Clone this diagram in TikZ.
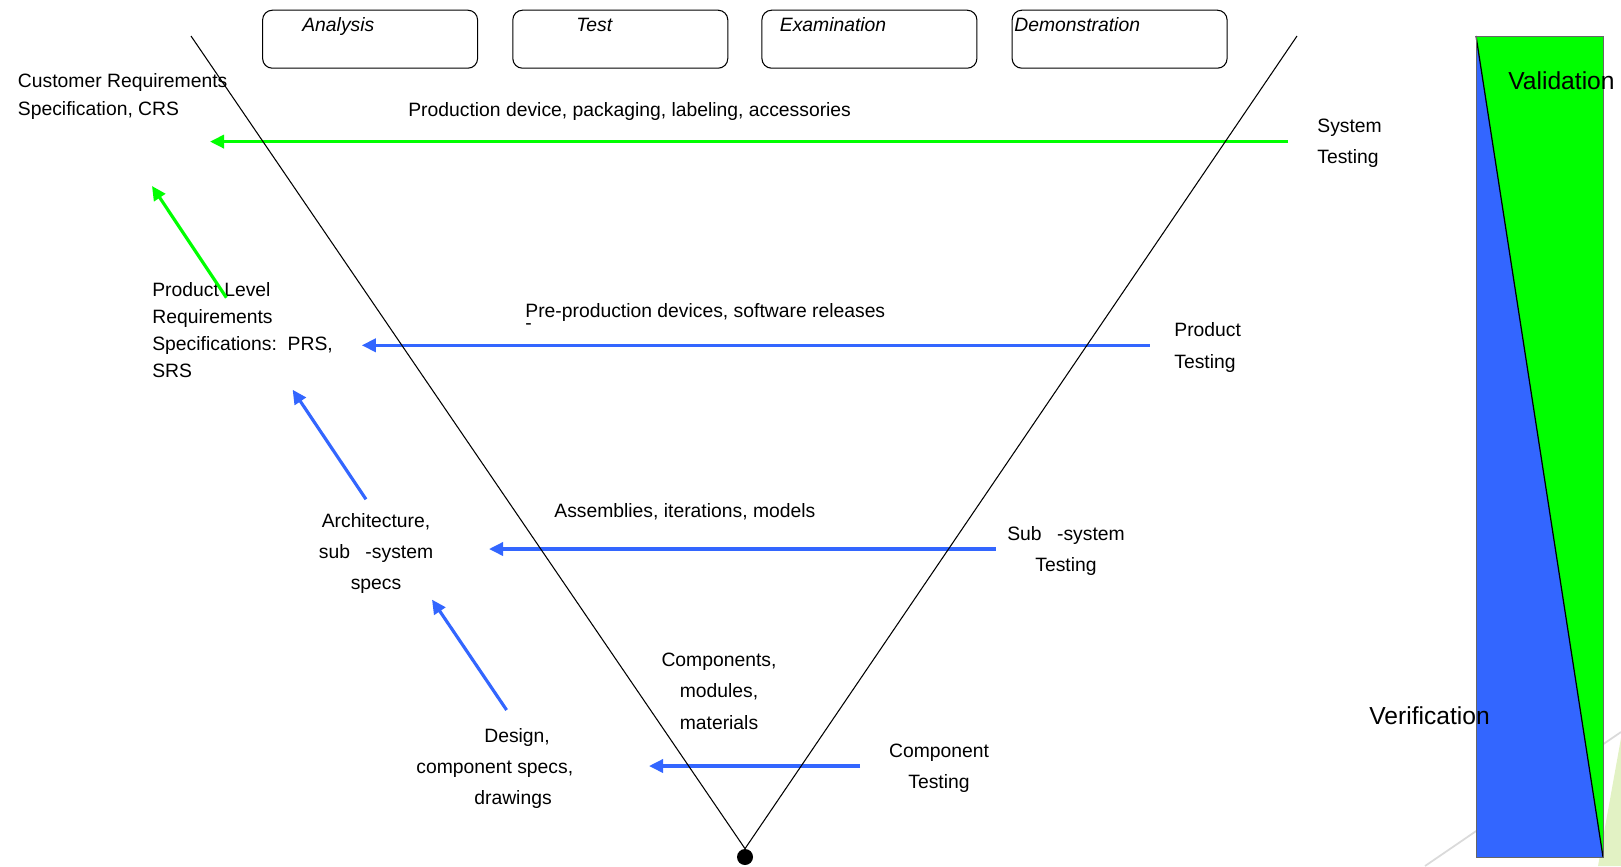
\documentclass[tikz,border=0pt]{standalone}
\usepackage{fontspec}
\setmainfont{Liberation Sans}
\usepackage{tikz}
\usetikzlibrary{arrows.meta}
\definecolor{valgreen}{RGB}{0,255,0}
\definecolor{verblue}{RGB}{51,102,255}
\definecolor{tmplgrey}{RGB}{218,218,218}
\definecolor{tmplgreen}{RGB}{226,242,196}

\begin{document}
\begin{tikzpicture}[x=0.02cm,y=-0.02cm,
    lbl/.style={font=\fontsize{11}{17.8}\selectfont,inner sep=0pt},
    tightlbl/.style={font=\fontsize{11}{15.4}\selectfont,inner sep=0pt,align=left,anchor=base west},
    biglbl/.style={font=\fontsize{14}{17}\selectfont,inner sep=0pt,anchor=base west},
    methodbox/.style={draw,rounded corners=5.5pt,line width=0.6pt,minimum width=4.3cm,minimum height=1.16cm,inner sep=0pt},
    methodlbl/.style={font=\fontsize{11}{13}\selectfont\itshape,inner sep=0pt,anchor=base west},
    vline/.style={line width=0.6pt},
    traceline/.style={line width=1.8pt,-{Triangle[length=8pt,width=7.5pt]}}]
  \useasboundingbox (0,0) rectangle (1621,866);
  % template decoration
  \fill[tmplgreen] (1598,866) -- (1621,738) -- (1621,866) -- cycle;
  \draw[tmplgrey,line width=1pt] (1425,866) -- (1621,732);
  % verification / validation bar
  \coordinate (barnw) at (1476,36);
  \coordinate (barne) at (1603,36);
  \coordinate (barsw) at (1476,857);
  \coordinate (barse) at (1603,857);
  \fill[verblue] (barnw) -- (barsw) -- (barse) -- cycle;
  \fill[valgreen] (barnw) -- (barne) -- (barse) -- cycle;
  \draw[line width=0.7pt] (barnw) -- (barse);
  \draw[gray!80!black,line width=0.5pt] (barnw) rectangle (barse);
  \node[biglbl] (valid) at (1508,89.4) {Validation};
  \node[biglbl] (verif) at (1369,724.2) {Verification};
  % method boxes
  \node[methodbox] (analysis) at (370.1,39.2) {};
  \node[methodbox] (test) at (620.3,39.2) {};
  \node[methodbox] (exam) at (869.4,39.2) {};
  \node[methodbox] (demo) at (1119.6,39.2) {};
  \node[methodlbl] (analysislbl) at (302,31) {Analysis};
  \node[methodlbl] (testlbl) at (576,31) {Test};
  \node[methodlbl] (examlbl) at (779.5,31) {Examination};
  \node[methodlbl] (demolbl) at (1014,31) {Demonstration};
  % left side: requirements (base = last line)
  \node[tightlbl,font=\fontsize{11}{15.8}\selectfont] (crs) at (17.6,115.4) {Customer Requirements\\Specification, CRS};
  \node[tightlbl] (prs) at (152,377.8) {Product Level\\Requirements\\Specifications:\ \ PRS,\\SRS};
  \node[lbl,align=center,anchor=base] (arch) at (376,589.6) {Architecture,\\sub\hspace{0.8em}-system\\specs};
  \node[lbl,align=left,anchor=base west] (design) at (416,804.6) {\hspace{1.36cm}Design,\\component specs,\\\hspace{1.16cm}drawings};
  % right side: testing
  \node[lbl,align=left,anchor=base west] (systest) at (1317,163.3) {System\\Testing};
  \node[lbl,align=left,anchor=base west] (prodtest) at (1174,368.1) {Product\\Testing};
  \node[lbl,align=center,anchor=base] (subtest) at (1066,571.7) {Sub\hspace{0.8em}-system\\Testing};
  \node[lbl,align=center,anchor=base] (comptest) at (939,788.8) {Component\\Testing};
  % deliverables
  \node[lbl,anchor=base west] (proddev) at (408,116.6) {Production device, packaging, labeling, accessories};
  \node[lbl,anchor=base west] (preprod) at (525,317) {Pre-production devices, software releases};
  \node[lbl,anchor=base west] (preprodmark) at (525,329) {-};
  \node[lbl,anchor=base west] (assy) at (554,517.7) {Assemblies, iterations, models};
  \node[lbl,align=center,anchor=base] (parts) at (719,729.2) {Components,\\modules,\\materials};
  % trace arrows
  \coordinate (systestout) at (1288,141.6);
  \coordinate (crsin) at (210,141.6);
  \coordinate (prsup) at (226.4,297.7);
  \coordinate (crsup) at (152,186);
  \coordinate (prodtestout) at (1149.6,345.3);
  \coordinate (prsin) at (361.8,345.3);
  \coordinate (archup) at (366,499.3);
  \coordinate (prsbelow) at (292.6,389.7);
  \coordinate (subtestout) at (995.5,549);
  \coordinate (archin) at (489,549);
  \coordinate (designup) at (506.6,710);
  \coordinate (archbelow) at (432,599.6);
  \coordinate (comptestout) at (860,766);
  \coordinate (designin) at (649,766);
  \draw[traceline,valgreen] (systestout) -- (crsin);
  \draw[traceline,valgreen] (prsup) -- (crsup);
  \draw[traceline,verblue] (prodtestout) -- (prsin);
  \draw[traceline,verblue] (archup) -- (prsbelow);
  \draw[traceline,verblue] (subtestout) -- (archin);
  \draw[traceline,verblue] (designup) -- (archbelow);
  \draw[traceline,verblue] (comptestout) -- (designin);
  % the V
  \node[circle,fill,inner sep=0pt,minimum size=0.32cm] (tip) at (745,857) {};
  \coordinate (vleft) at (191,36);
  \coordinate (vright) at (1297,36);
  \draw[vline] (vleft) -- (tip.north);
  \draw[vline] (vright) -- (tip.north);
\end{tikzpicture}
\end{document}
